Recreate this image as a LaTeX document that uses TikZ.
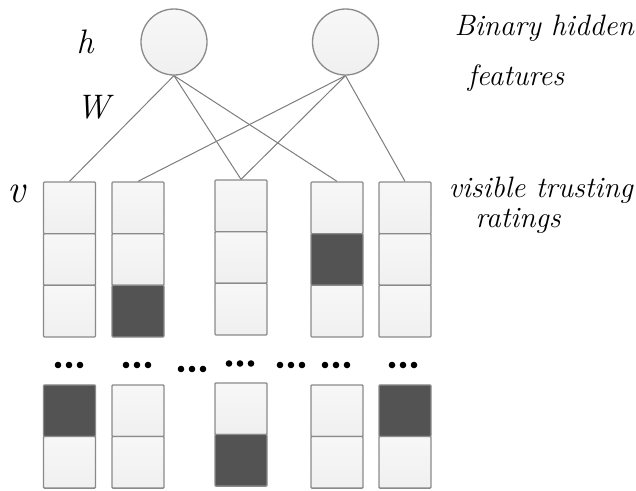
\documentclass[tikz,border=0pt]{standalone}
\usepackage{fontspec}
\definecolor{edgegray}{RGB}{138,138,138}
\definecolor{linkgray}{RGB}{125,125,125}
\definecolor{darkcell}{RGB}{83,83,83}
\begin{document}
\begin{tikzpicture}[x=1pt,y=-1pt,
  cell/.style={draw=edgegray, line width=1.3pt, minimum width=52pt, minimum height=51.7pt,
    inner sep=0pt, rounded corners=1pt, top color=gray!6, bottom color=gray!12},
  dcell/.style={draw=edgegray, line width=1.3pt, minimum width=52pt, minimum height=51.7pt,
    inner sep=0pt, rounded corners=1pt, fill=darkcell},
  unit/.style={circle, draw=edgegray, line width=1.3pt, minimum size=66pt, inner sep=0pt,
    top color=gray!6, bottom color=gray!12},
  link/.style={draw=linkgray, line width=1pt},
  lbl/.style={inner sep=0pt, anchor=base},
  side/.style={inner sep=0pt, font=\fontsize{29.5}{35}\selectfont\itshape}
]
\useasboundingbox (0,0) rectangle (636,490);

% hidden units
\node[unit] (h1) at (174,42) {};
\node[unit] (h2) at (345.5,42) {};

% top visible columns
\node[cell]  (a1) at (69.5,207.85) {};
\node[cell]  (a2) at (69.5,259.5) {};
\node[cell]  (a3) at (69.5,311.15) {};
\node[cell]  (b1) at (138,207.85) {};
\node[cell]  (b2) at (138,259.5) {};
\node[dcell] (b3) at (138,311.15) {};
\node[cell]  (c1) at (241,205.85) {};
\node[cell]  (c2) at (241,257.5) {};
\node[cell]  (c3) at (241,309.15) {};
\node[cell]  (d1) at (337,207.85) {};
\node[dcell] (d2) at (337,259.5) {};
\node[cell]  (d3) at (337,311.15) {};
\node[cell]  (e1) at (405,207.85) {};
\node[cell]  (e2) at (405,259.5) {};
\node[cell]  (e3) at (405,311.15) {};

% bottom visible columns
\node[dcell] (a4) at (69.5,410.75) {};
\node[cell]  (a5) at (69.5,462.25) {};
\node[cell]  (b4) at (138,410.75) {};
\node[cell]  (b5) at (138,462.25) {};
\node[cell]  (c4) at (241,408.75) {};
\node[dcell] (c5) at (241,460.25) {};
\node[cell]  (d4) at (337,410.75) {};
\node[cell]  (d5) at (337,462.25) {};
\node[dcell] (e4) at (405,410.75) {};
\node[cell]  (e5) at (405,462.25) {};

% connections
\draw[link] (h1.south) -- (a1.north);
\draw[link] (h1.south) -- (c1.north);
\draw[link] (h1.south) -- (d1.north);
\draw[link] (h2.south) -- (b1.north);
\draw[link] (h2.south) -- (c1.north);
\draw[link] (h2.south) -- (e1.north);

% ellipsis dots
\foreach \cx/\cy in {69/365, 137/365, 192/369, 240/363.5, 291/365, 336/365, 403/365}{
  \foreach \k in {-1,0,1}{
    \fill[black] (\cx+11*\k,\cy) circle (3.3pt);
  }
}

% labels
\node[lbl] (hlab) at (85,53) {\fontsize{34}{38}\selectfont\itshape h};
\node[lbl] (wlab) at (93,118) {\fontsize{34}{38}\selectfont\itshape W};
\node[lbl] (vlab) at (17,202) {\fontsize{40}{44}\selectfont\itshape v};

\node[side, anchor=base east] (bh) at (634,35) {Binary hidden};
\node[side, anchor=base] (ft) at (516,85) {features};
\node[side, anchor=base east] (vt) at (633,197) {visible trusting};
\node[side, anchor=base] (rt) at (518,227) {ratings};
\end{tikzpicture}
\end{document}
